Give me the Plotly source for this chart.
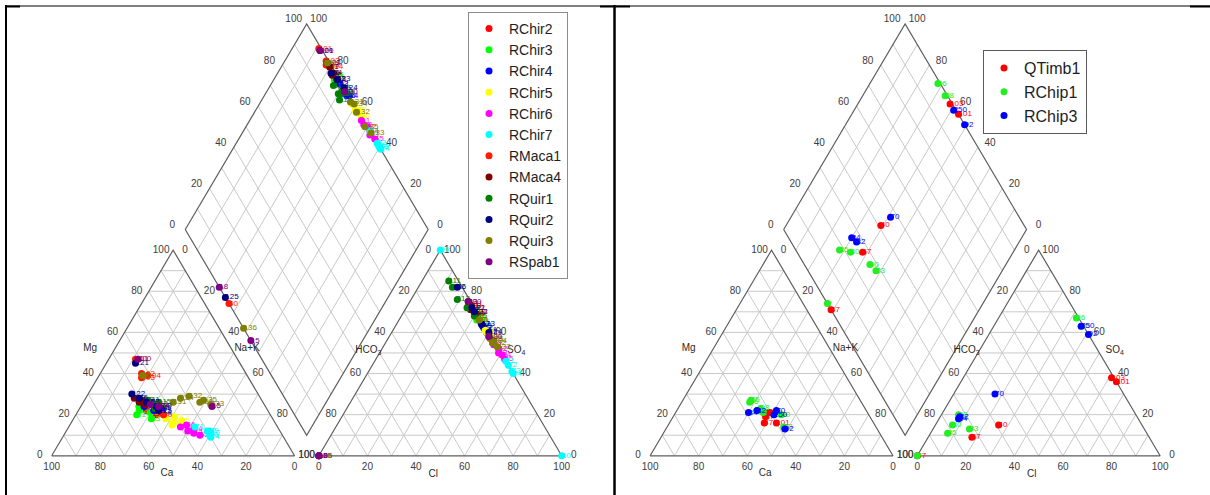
import numpy as np
import plotly.graph_objects as go

# ---------------------------------------------------------------------------
# Left diagram: one entry per water sample (percent of meq/L)
# ---------------------------------------------------------------------------
left_names = ["RChir2", "RChir3", "RChir4", "RChir5", "RChir6", "RChir7",
              "RMaca1", "RMaca4", "RQuir1", "RQuir2", "RQuir3", "RSpab1"]
left_colors = ["#ff0000", "#00ff00", "#0000ff", "#ffff00", "#ff00ff", "#00ffff",
               "#ff1a00", "#800000", "#008000", "#000080", "#808000", "#800080"]

left_site = (["RChir2"] * 5 + ["RChir3"] * 5 + ["RChir4"] * 5 + ["RChir5"] * 5 +
             ["RChir6"] * 6 + ["RChir7"] * 6 + ["RMaca1"] * 5 + ["RMaca4"] * 4 +
             ["RQuir1"] * 5 + ["RQuir2"] * 6 + ["RQuir3"] * 7 + ["RSpab1"] * 4)
left_label = ["21", "22", "23", "24", "25",
              "31", "32", "33", "34", "35",
              "41", "42", "43", "44", "45",
              "51", "52", "53", "54", "55",
              "61", "62", "63", "64", "65", "66",
              "71", "72", "73", "74", "99", "10",
              "101", "102", "103", "104", "40",
              "81", "82", "83", "84",
              "111", "112", "113", "114", "115",
              "46", "121", "122", "123", "124", "125",
              "90", "131", "134", "132", "133", "135", "136",
              "800", "400", "18", "15"]
left_ca = [52, 50, 48, 47, 45,
           55, 53, 50, 52, 49,
           50, 47, 46, 44, 43,
           44, 42, 40, 43, 38,
           40, 38, 36, 35, 34, 37,
           34, 30, 30, 30, 29, 29,
           42, 43, 44, 41, 44,
           52, 50, 49, 51,
           47, 45, 44, 46, 43,
           50, 43, 52, 48, 45, 45,
           43, 37, 33, 29, 22, 24, 26,
           41, 44, 47, 22]
left_mg = [24, 22, 27, 20, 25,
           20, 22, 18, 24, 21,
           24, 22, 26, 21, 23,
           18, 16, 19, 15, 17,
           14, 12, 11, 13, 10, 15,
           14, 12, 10, 9, 12, 11,
           47, 40, 38, 39, 20,
           28, 27, 25, 26,
           27, 25, 24, 23, 26,
           28, 45, 30, 26, 24, 22,
           39, 26, 28, 29, 25, 27, 26,
           47, 24, 25, 24]
left_nak = [24, 28, 25, 33, 30,
            25, 25, 32, 24, 30,
            26, 31, 28, 35, 34,
            38, 42, 41, 42, 45,
            46, 50, 53, 52, 56, 48,
            52, 58, 60, 61, 59, 60,
            11, 17, 18, 20, 36,
            20, 23, 26, 23,
            26, 30, 32, 31, 31,
            22, 12, 18, 26, 31, 33,
            18, 37, 39, 42, 53, 49, 48,
            12, 32, 28, 54]
left_hco3 = [1, 1, 2, 1, 1,
             1, 2, 1, 1, 1,
             1, 1, 1, 0, 1,
             1, 0, 1, 1, 0,
             1, 0, 1, 0, 0, 1,
             0, 0, 0, 0, 0, 0,
             1, 1, 2, 1, 100,
             1, 2, 1, 1,
             4, 4, 5, 3, 2,
             2, 1, 1, 1, 0, 100,
             1, 1, 0, 1, 0, 1, 100,
             1, 1, 100, 100]
left_so4 = [70, 68, 72, 66, 69,
            67, 66, 63, 70, 65,
            64, 62, 60, 61, 63,
            60, 58, 57, 61, 56,
            54, 52, 50, 49, 47, 55,
            46, 44, 41, 40, 100, 0,
            74, 72, 73, 70, 0,
            73, 71, 75, 69,
            85, 82, 76, 72, 68,
            82, 72, 70, 64, 60, 0,
            66, 58, 56, 55, 53, 57, 0,
            75, 58, 0, 0]
left_cl = [29, 31, 26, 33, 30,
           32, 32, 36, 29, 34,
           35, 37, 39, 39, 36,
           39, 42, 42, 38, 44,
           45, 48, 49, 51, 53, 44,
           54, 56, 59, 60, 0, 100,
           25, 27, 25, 29, 0,
           26, 27, 24, 30,
           11, 14, 19, 25, 30,
           16, 27, 29, 35, 40, 0,
           33, 41, 44, 44, 47, 42, 0,
           24, 41, 0, 0]

# ---------------------------------------------------------------------------
# Right diagram samples
# ---------------------------------------------------------------------------
right_names = ["QTimb1", "RChip1", "RChip3"]
right_colors = ["#ff0000", "#22ee22", "#0000ff"]

right_site = ["QTimb1"] * 5 + ["RChip1"] * 7 + ["RChip3"] * 5
right_label = ["103", "101", "40", "67", "47",
               "96", "98", "35", "30", "90", "33", "2",
               "250", "92", "70", "34", "32"]
right_ca = [41, 40, 40, 43, 45,
            46, 43, 45, 45, 36, 38, 43,
            39, 38, 37, 49, 45]
right_mg = [21, 16, 21, 19, 16,
            26, 23, 27, 22, 20, 14, 21,
            20, 13, 22, 21, 22]
right_nak = [38, 44, 39, 38, 39,
             28, 34, 28, 33, 44, 48, 36,
             41, 49, 41, 30, 33]
right_hco3 = [1, 0, 59, 73, 100,
              1, 1, 82, 78, 73, 72, 100,
              1, 0, 53, 74, 73]
right_so4 = [38, 36, 15, 9, 0,
             67, 63, 11, 15, 20, 13, 0,
             63, 59, 30, 18, 19]
right_cl = [61, 64, 26, 18, 0,
            32, 36, 7, 7, 7, 15, 0,
            36, 41, 17, 8, 8]

TICKS = [0, 20, 40, 60, 80, 100]
GRID = [10, 20, 30, 40, 50, 60, 70, 80, 90]

# ---------------------------------------------------------------------------
# Piper geometry (triangle side = 100 units)
# ---------------------------------------------------------------------------
GAP = 10.0
H = np.sqrt(3) / 2
SHIFT = 246.4          # horizontal offset of the second diagram
PXX = 2.4286           # screen px per unit (x)
PXY = 2.375            # screen px per unit (y)
X_RANGE = [-51.7 / PXX, (1210 - 51.7) / PXX]
Y_RANGE = [-(495 - 455.8) / PXY, 455.8 / PXY]

FONT = "Liberation Sans, Arial, sans-serif"


def cat_xy(ca, mg, nak):
    ca, mg, nak = (np.asarray(v, dtype=float) for v in (ca, mg, nak))
    t = ca + mg + nak
    mg_p, na_p = 100 * mg / t, 100 * nak / t
    return na_p + mg_p / 2, mg_p * H


def an_xy(hco3, so4, cl):
    hco3, so4, cl = (np.asarray(v, dtype=float) for v in (hco3, so4, cl))
    t = hco3 + so4 + cl
    so4_p, cl_p = 100 * so4 / t, 100 * cl / t
    return 100 + GAP + cl_p + so4_p / 2, so4_p * H


def dia_ns(n, s):
    n, s = np.asarray(n, dtype=float), np.asarray(s, dtype=float)
    return (100 + GAP + s + n) / 2, (100 + GAP + s - n) * H


def dia_xy(ca, mg, nak, hco3, so4, cl):
    ca, mg, nak, hco3, so4, cl = (np.asarray(v, dtype=float)
                                  for v in (ca, mg, nak, hco3, so4, cl))
    n = 100 * nak / (ca + mg + nak)
    s = 100 * (so4 + cl) / (hco3 + so4 + cl)
    return dia_ns(n, s)


def shifted(p, off, dx_px=0.0, dy_px=0.0):
    return float(p[0]) + off + dx_px / PXX, float(p[1]) + dy_px / PXY


fig = go.Figure()


def add_frame(off):
    gx, gy = [], []

    def seg(p, q):
        gx.extend([float(p[0]) + off, float(q[0]) + off, None])
        gy.extend([float(p[1]), float(q[1]), None])

    for v in GRID:
        seg(cat_xy(100 - v, v, 0), cat_xy(0, v, 100 - v))
        seg(cat_xy(100 - v, 0, v), cat_xy(0, 100 - v, v))
        seg(cat_xy(v, 100 - v, 0), cat_xy(v, 0, 100 - v))
        seg(an_xy(100 - v, v, 0), an_xy(0, v, 100 - v))
        seg(an_xy(100 - v, 0, v), an_xy(0, 100 - v, v))
        seg(an_xy(v, 100 - v, 0), an_xy(v, 0, 100 - v))
        seg(dia_ns(v, 0), dia_ns(v, 100))
        seg(dia_ns(0, v), dia_ns(100, v))
    fig.add_trace(go.Scatter(x=gx, y=gy, mode="lines", showlegend=False,
                             hoverinfo="skip",
                             line=dict(color="#c9c9c9", width=1)))

    ox, oy = [], []
    for poly in ([cat_xy(100, 0, 0), cat_xy(0, 100, 0), cat_xy(0, 0, 100), cat_xy(100, 0, 0)],
                 [an_xy(100, 0, 0), an_xy(0, 100, 0), an_xy(0, 0, 100), an_xy(100, 0, 0)],
                 [dia_ns(0, 0), dia_ns(0, 100), dia_ns(100, 100), dia_ns(100, 0), dia_ns(0, 0)]):
        for p in poly:
            ox.append(float(p[0]) + off)
            oy.append(float(p[1]))
        ox.append(None)
        oy.append(None)
    fig.add_trace(go.Scatter(x=ox, y=oy, mode="lines", showlegend=False,
                             hoverinfo="skip",
                             line=dict(color="#5e5e5e", width=1.2)))

    # tick labels
    tx, ty, tt = [], [], []

    def lab(p, text):
        tx.append(p[0])
        ty.append(p[1])
        tt.append(text)

    for v in TICKS:
        lab(shifted(cat_xy(v, 0, 100 - v), off, 0, -12), str(v))        # Ca
        lab(shifted(cat_xy(100 - v, v, 0), off, -12, 0), str(v))        # Mg
        lab(shifted(cat_xy(0, 100 - v, v), off, 12, 0), str(v))         # Na+K
        lab(shifted(an_xy(100 - v, 0, v), off, 0, -12), str(v))         # Cl
        lab(shifted(an_xy(v, 100 - v, 0), off, -12, 0), str(v))         # HCO3
        lab(shifted(an_xy(0, v, 100 - v), off, 12, 0), str(v))          # SO4
        lab(shifted(dia_ns(0, v), off, -13, 4), str(v))                 # SO4+Cl
        lab(shifted(dia_ns(100 - v, 100), off, 12, 4), str(v))          # Ca+Mg
    fig.add_trace(go.Scatter(x=tx, y=ty, text=tt, mode="text", showlegend=False,
                             hoverinfo="skip",
                             textfont=dict(family=FONT, size=10, color="#3c3c3c")))

    # axis names
    nx, ny, nt = [], [], []
    for p, t in ((shifted(cat_xy(52.6, 0, 47.4), off, 0, -18), "Ca"),
                 (shifted(cat_xy(47.7, 52.3, 0), off, -25, 0), "Mg"),
                 (shifted(cat_xy(0, 52.3, 47.7), off, 16, 0), "Na+K"),
                 (shifted(an_xy(52.9, 0, 47.1), off, 0, -19), "Cl"),
                 (shifted(an_xy(48.6, 51.4, 0), off, -13, 0), "HCO<sub>3</sub>"),
                 (shifted(an_xy(0, 51.4, 48.6), off, 17, 0), "SO<sub>4</sub>")):
        nx.append(p[0])
        ny.append(p[1])
        nt.append(t)
    fig.add_trace(go.Scatter(x=nx, y=ny, text=nt, mode="text", showlegend=False,
                             hoverinfo="skip",
                             textfont=dict(family=FONT, size=10, color="#2a2a2a")))


def add_samples(names, colors, site, label, ca, mg, nak, hco3, so4, cl, off, legend):
    site = np.asarray(site)
    label = np.asarray(label)
    arr = {k: np.asarray(v, dtype=float) for k, v in
           dict(ca=ca, mg=mg, nak=nak, hco3=hco3, so4=so4, cl=cl).items()}
    for name, color in zip(names, colors):
        m = site == name
        cx, cy = cat_xy(arr["ca"][m], arr["mg"][m], arr["nak"][m])
        ax, ay = an_xy(arr["hco3"][m], arr["so4"][m], arr["cl"][m])
        dx, dy = dia_xy(arr["ca"][m], arr["mg"][m], arr["nak"][m],
                        arr["hco3"][m], arr["so4"][m], arr["cl"][m])
        xs = np.concatenate([cx, ax, dx]) + off
        ys = np.concatenate([cy, ay, dy])
        txt = list(label[m]) * 3
        fig.add_trace(go.Scatter(x=xs, y=ys, mode="markers", name=name,
                                 legend=legend,
                                 marker=dict(color=color, size=7, line=dict(width=0))))
        fig.add_trace(go.Scatter(x=xs, y=ys, text=txt, mode="text",
                                 textposition="middle right", showlegend=False,
                                 hoverinfo="skip",
                                 textfont=dict(family=FONT, size=8, color=color)))


add_frame(0.0)
add_frame(SHIFT)
add_samples(left_names, left_colors, left_site, left_label, left_ca, left_mg,
            left_nak, left_hco3, left_so4, left_cl, 0.0, "legend")
add_samples(right_names, right_colors, right_site, right_label, right_ca, right_mg,
            right_nak, right_hco3, right_so4, right_cl, SHIFT, "legend2")

W, HT = 1210, 495
shapes = [
    dict(type="line", xref="paper", yref="paper", x0=5 / W, x1=1, y0=1 - 6 / HT, y1=1 - 6 / HT,
         line=dict(color="black", width=1)),
    dict(type="line", xref="paper", yref="paper", x0=5 / W, x1=20 / W, y0=1 - 6.5 / HT, y1=1 - 6.5 / HT,
         line=dict(color="black", width=2)),
    dict(type="line", xref="paper", yref="paper", x0=600 / W, x1=630 / W, y0=1 - 6.5 / HT, y1=1 - 6.5 / HT,
         line=dict(color="black", width=2)),
    dict(type="line", xref="paper", yref="paper", x0=1190 / W, x1=1, y0=1 - 6.5 / HT, y1=1 - 6.5 / HT,
         line=dict(color="black", width=2)),
    dict(type="line", xref="paper", yref="paper", x0=6 / W, x1=6 / W, y0=0, y1=1 - 5 / HT,
         line=dict(color="black", width=2)),
    dict(type="line", xref="paper", yref="paper", x0=614.5 / W, x1=614.5 / W, y0=0, y1=1 - 5 / HT,
         line=dict(color="black", width=2.5)),
]

fig.update_layout(
    width=W, height=HT, autosize=False,
    margin=dict(l=0, r=0, t=0, b=0, pad=0),
    paper_bgcolor="white", plot_bgcolor="white",
    xaxis=dict(range=X_RANGE, visible=False, fixedrange=True),
    yaxis=dict(range=Y_RANGE, visible=False, fixedrange=True),
    shapes=shapes,
    hovermode="closest",
    legend=dict(x=468 / W, y=1 - 12 / HT, xanchor="left", yanchor="top",
                bgcolor="white", bordercolor="#8c8c8c", borderwidth=1,
                font=dict(family=FONT, size=14, color="#1e1e1e"),
                itemwidth=30, entrywidth=82, tracegroupgap=0),
    legend2=dict(x=983 / W, y=1 - 50 / HT, xanchor="left", yanchor="top",
                 bgcolor="white", bordercolor="#5a5a5a", borderwidth=1,
                 font=dict(family=FONT, size=16, color="#1e1e1e"),
                 itemwidth=30, entrywidth=88, tracegroupgap=0),
)

fig.write_html("out.html")
